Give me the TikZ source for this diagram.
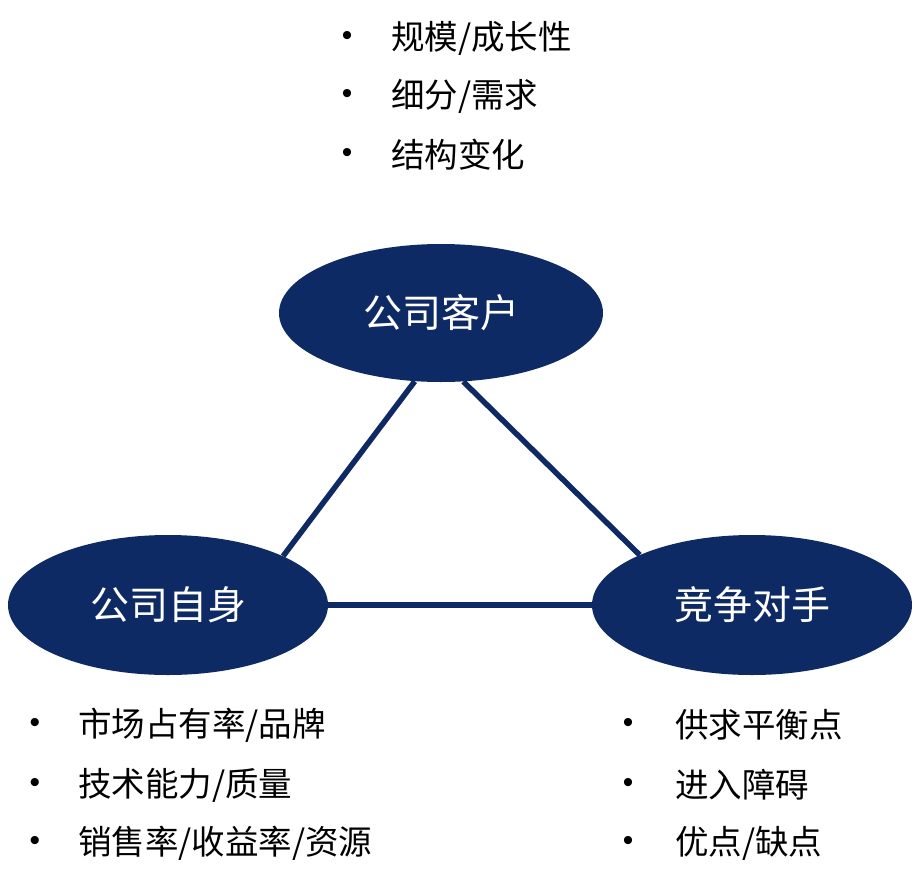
\documentclass[tikz,border=0pt]{standalone}
\usepackage{fontspec}
\setmainfont{Liberation Sans}
\newfontfamily\cjk{Noto Sans CJK SC}
\usetikzlibrary{shapes.geometric}
\definecolor{navy}{RGB}{14,42,100}
\begin{document}
\begin{tikzpicture}[x=1pt,y=-1pt,
  oval/.style={ellipse,fill=navy,draw=none,inner sep=0pt,minimum width=320pt,minimum height=140pt,text=white,font=\cjk\fontsize{39}{42}\selectfont},
  item/.style={anchor=west,inner sep=0pt,text=black,font=\cjk\fontsize{33.5}{37}\selectfont},
  dot/.style={inner sep=0pt,text=black,font=\fontsize{30}{34}\selectfont},
  link/.style={draw=navy,line width=5.5pt}]
\useasboundingbox[fill=white] (0,0) rectangle (916,889);
\node[oval,minimum width=324pt,minimum height=138pt] (cust) at (441,313) {公司客户};
\node[oval] (self) at (168,605) {公司自身};
\node[oval] (comp) at (752,605) {竞争对手};
\draw[link] (cust.249) -- (self.23);
\draw[link] (cust.288) -- (comp.156);
\draw[link] (self.east) -- (comp.west);
% top list
\node[dot] (b1) at (347,38) {•};
\node[item] (t1) at (391,38) {规模/成长性};
\node[dot] (b2) at (347,96) {•};
\node[item] (t2) at (391,96) {细分/需求};
\node[dot] (b3) at (347,155) {•};
\node[item] (t3) at (391,155) {结构变化};
% left list
\node[dot] (b4) at (35,725) {•};
\node[item] (l1) at (78,725) {市场占有率/品牌};
\node[dot] (b5) at (35,785) {•};
\node[item] (l2) at (78,785) {技术能力/质量};
\node[dot] (b6) at (35,843) {•};
\node[item] (l3) at (78,843) {销售率/收益率/资源};
% right list
\node[dot] (b7) at (628,725) {•};
\node[item] (r1) at (675,725) {供求平衡点};
\node[dot] (b8) at (628,785) {•};
\node[item] (r2) at (675,785) {进入障碍};
\node[dot] (b9) at (628,843) {•};
\node[item] (r3) at (675,843) {优点/缺点};
\end{tikzpicture}
\end{document}
